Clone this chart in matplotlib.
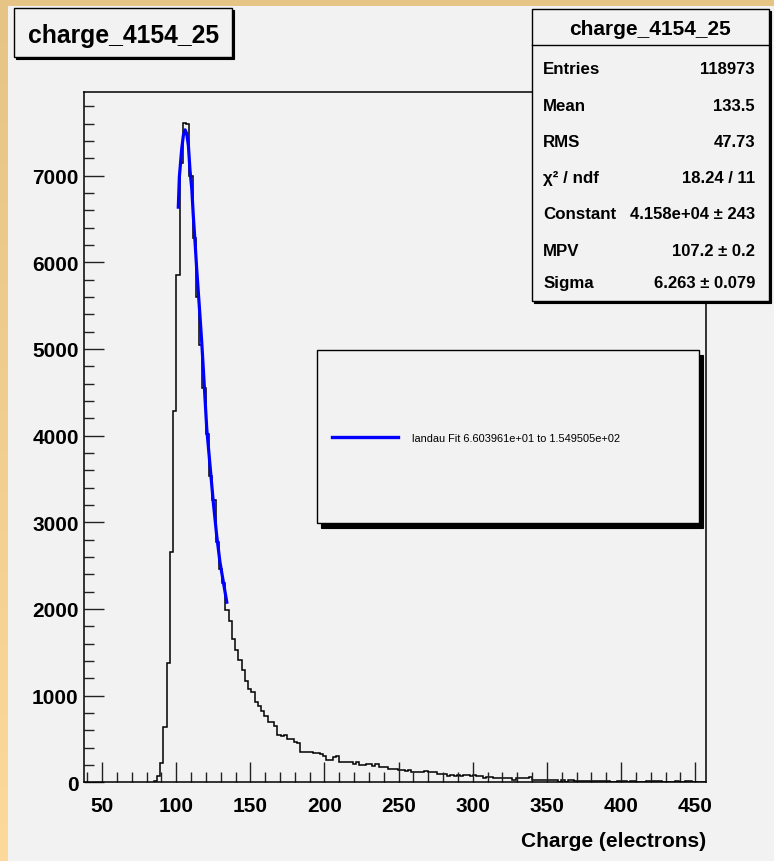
import matplotlib
matplotlib.use('Agg')
import matplotlib.pyplot as plt
import matplotlib.patches as patches
from matplotlib.lines import Line2D
from matplotlib.ticker import MultipleLocator
from matplotlib.colors import LinearSegmentedColormap
import numpy as np

# histogram: bin width and left edge of the first listed bin (bins before it are empty)
bin_w = 2.2
first_edge = 84.7
counts = [
    12, 70, 227, 643, 1374, 2655, 4289, 5858, 7150, 7605,
    7590, 7000, 6280, 5600, 5050, 4547, 4020, 3539, 3260, 2770,
    2462, 2300, 1990, 1866, 1654, 1531, 1412, 1297, 1173, 1078,
    1040, 924, 885, 827, 770, 700, 690, 654, 547, 532,
    540, 505, 505, 470, 455, 354, 347, 350, 345, 340,
    339, 328, 308, 258, 262, 297, 300, 239, 232, 230,
    234, 212, 239, 205, 203, 212, 210, 193, 212, 174,
    172, 176, 155, 157, 153, 147, 145, 135, 137, 116,
    118, 124, 122, 125, 116, 114, 118, 97, 99, 95,
    78, 80, 76, 80, 70, 85, 85, 78, 80, 70,
    72, 55, 62, 60, 47, 46, 48, 45, 47, 46,
    32, 47, 45, 46, 44, 60, 32, 28, 27, 29,
    26, 28, 25, 27, 8, 30, 8, 28, 26, 12,
    14, 11, 13, 12, 10, 12, 11, 13, 10, 12,
    9, 3, 12, 10, 11, 9, 12, 10, 2, 0,
    3, 12, 10, 11, 12, 20, 0, 2, 0, 1,
    12, 0, 0, 12, 10, 0, 1, 0, 0,
]

# landau fit curve
fit_x = [101.4, 102.1, 103.7, 104.8, 106.0, 107.1, 108.2, 109.3, 110.5, 111.5,
         112.7, 113.8, 114.9, 116.0, 117.2, 118.3, 120.6, 122.8, 125.0, 127.3,
         129.5, 131.8, 134.1]
fit_y = [6636, 6982, 7308, 7462, 7528, 7481, 7346, 7060, 6847, 6539,
         6231, 5924, 5655, 5385, 5078, 4760, 4078, 3654, 3232, 2846,
         2540, 2309, 2078]

x_ticks = [50, 100, 150, 200, 250, 300, 350, 400, 450]
y_ticks = [0, 1000, 2000, 3000, 4000, 5000, 6000, 7000]

hist_name = 'charge_4154_25'
stat_labels = ['Entries', 'Mean', 'RMS', 'χ² / ndf', 'Constant', 'MPV', 'Sigma']
stat_values = ['118973', '133.5', '47.73', '18.24 / 11',
               '4.158e+04 ± 243', '107.2 ± 0.2', '6.263 ± 0.079']
legend_text = 'landau Fit 6.603961e+01 to 1.549505e+02'

plt.rcParams['font.family'] = ['Liberation Sans', 'DejaVu Sans']

W, H = 774, 862
BG = '#f2f2f2'


def fx(px):
    return px / W


def fy(py):
    return 1 - py / H


def box(fig, x0, y0, x1, y1, sx, sy):
    # shadow first, then the box itself
    fig.add_artist(patches.Rectangle((fx(x0 + sx), fy(y1 + sy)), fx(x1) - fx(x0), (y1 - y0) / H,
                                     transform=fig.transFigure, facecolor='black',
                                     edgecolor='black', lw=0.8))
    fig.add_artist(patches.Rectangle((fx(x0), fy(y1)), fx(x1) - fx(x0), (y1 - y0) / H,
                                     transform=fig.transFigure, facecolor=BG,
                                     edgecolor='black', lw=1.0))


fig = plt.figure(figsize=(7.74, 8.62), dpi=100)
fig.patch.set_facecolor(BG)

# tan border on top and left
fig.add_artist(patches.Rectangle((0, fy(7)), 1, 7 / H, transform=fig.transFigure,
                                 facecolor='#e5c486', edgecolor='none'))
bg = fig.add_axes([0, 0, fx(8), 1])
grad = np.linspace(0, 1, 256).reshape(-1, 1)
cm = LinearSegmentedColormap.from_list('tan', ['#e5c486', '#fdd99b'])
bg.imshow(grad, aspect='auto', cmap=cm, extent=[0, 1, 0, 1], origin='upper')
bg.axis('off')

ax = fig.add_axes([fx(84.3), fy(783.3), fx(706) - fx(84.3), (783.3 - 92.7) / H])
ax.set_facecolor(BG)

edges = first_edge + bin_w * np.arange(len(counts) + 1)
ax.stairs(counts, edges, color='black', lw=1.1, baseline=0)
ax.plot(fit_x, fit_y, color='blue', lw=2.3)

ax.set_xlim(38.0, 457.3)
ax.set_ylim(0, 7968)
ax.set_xticks(x_ticks)
ax.set_yticks(y_ticks)
ax.xaxis.set_minor_locator(MultipleLocator(10))
ax.yaxis.set_minor_locator(MultipleLocator(200))
ax.tick_params(which='major', direction='in', length=14.4, width=1.0, color='#222222')
ax.tick_params(which='minor', direction='in', length=7.5, width=1.0, color='#222222')
ax.tick_params(axis='x', which='major', pad=10)
ax.tick_params(axis='y', which='major', pad=4)
for lab in ax.get_xticklabels() + ax.get_yticklabels():
    lab.set_fontsize(15)
    lab.set_fontweight('bold')
for sp in ax.spines.values():
    sp.set_linewidth(1.1)

fig.text(fx(706), fy(846.7), 'Charge (electrons)', ha='right', va='baseline',
         fontsize=15, fontweight='bold')

# title box
box(fig, 14, 9.3, 232.3, 58.3, 2, 2)
fig.text(fx(123.2), fy(43.3), hist_name, ha='center', va='baseline',
         fontsize=17.8, fontweight='bold')

# stats box
box(fig, 531.7, 10, 769.3, 301.7, 2, 2)
fig.add_artist(Line2D([fx(531.7), fx(769.3)], [fy(45.7), fy(45.7)],
                      transform=fig.transFigure, color='black', lw=1.0))
fig.text(fx(650.5), fy(35), hist_name, ha='center', va='baseline',
         fontsize=15, fontweight='bold')
row_base = [74, 111, 146.7, 183, 219, 256, 288.3]
for lab, val, yb in zip(stat_labels, stat_values, row_base):
    fig.text(fx(543.3), fy(yb), lab, ha='left', va='baseline', fontsize=12.2, fontweight='bold')
    fig.text(fx(755), fy(yb), val, ha='right', va='baseline', fontsize=12, fontweight='bold')

# legend box
box(fig, 317.3, 351, 699, 524.3, 3.5, 5)
fig.add_artist(Line2D([fx(331.7), fx(398.3)], [fy(438.3), fy(438.3)],
                      transform=fig.transFigure, color='blue', lw=2.4))
fig.text(fx(411.7), fy(442.5), legend_text, ha='left', va='baseline', fontsize=7.9)

fig.savefig('out.png', dpi=100, facecolor=fig.get_facecolor())
